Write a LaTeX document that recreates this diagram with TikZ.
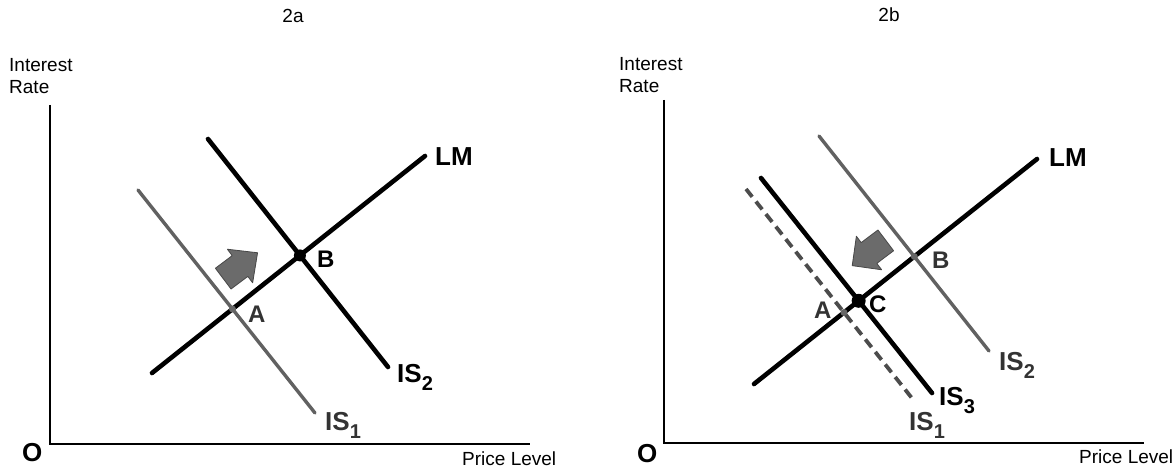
\documentclass[tikz,border=0pt]{standalone}
\usepackage{fontspec}
\setmainfont{Liberation Sans}
\usetikzlibrary{intersections}
\newcommand{\subnum}[1]{\raisebox{-8pt}{\fontsize{20}{20}\selectfont #1}}
\begin{document}
\begin{tikzpicture}[x=1pt,y=-1pt,
  axisline/.style={line width=1.8pt, black},
  thickcurve/.style={line width=4.6pt, black, line cap=round},
  graycurve/.style={line width=3.4pt, black!62, line cap=round},
  dashcurve/.style={line width=3.8pt, black!70, dash pattern=on 10pt off 6pt},
  axislabel/.style={anchor=base west, inner sep=0pt, font=\fontsize{19}{21}\selectfont},
  titlelabel/.style={anchor=base, inner sep=0pt, font=\fontsize{19}{21}\selectfont},
  boldlabel/.style={anchor=base west, inner sep=0pt, font=\fontsize{26}{28}\selectfont\bfseries},
  graylabel/.style={anchor=base west, inner sep=0pt, text=black!80, font=\fontsize{26}{28}\selectfont\bfseries},
  ptbold/.style={anchor=base west, inner sep=0pt, font=\fontsize{24}{26}\selectfont\bfseries},
  ptgray/.style={anchor=base west, inner sep=0pt, text=black!80, font=\fontsize{24}{26}\selectfont\bfseries},
  blackdot/.style={circle, fill=black, inner sep=0pt},
  graydot/.style={circle, fill=black!60, inner sep=0pt, minimum size=7pt},
  shiftarrow/.style={fill=black!58, draw=black!72, line width=0.8pt, line join=round}
]
\useasboundingbox (0,0) rectangle (1174,468);

% ---------------- Panel 2a ----------------
\node[titlelabel] (t2a) at (293,23) {2a};
\node[axislabel] (ir1) at (9,72) {Interest};
\node[axislabel] (rt1) at (9,94) {Rate};
\coordinate (ytop1) at (50,105);
\coordinate (org1) at (50,444);
\coordinate (xend1) at (530,444);
\draw[axisline] (ytop1) -- (org1) -- (xend1);
\node[boldlabel] (o1) at (22,461) {O};
\node[axislabel] (pl1) at (462,465) {Price Level};

\coordinate (lm1a) at (152,373);
\coordinate (lm1b) at (425,156);
\coordinate (is21a) at (208,139);
\coordinate (is21b) at (388,367);
\coordinate (is11a) at (138,190);
\coordinate (is11b) at (315,413);

\draw[graycurve, name path=isone1] (is11a) -- (is11b);
\draw[thickcurve, name path=istwo1] (is21a) -- (is21b);
\draw[thickcurve, name path=lmone] (lm1a) -- (lm1b);

\path[name intersections={of=lmone and isone1, by=A1}];
\path[name intersections={of=lmone and istwo1, by=B1}];
\node[graydot] (dA1) at (A1) {};
\node[blackdot, minimum size=12pt] (dB1) at (B1) {};

\node[boldlabel] (lmlab1) at (435,165) {LM};
\node[boldlabel] (is2lab1) at (397,382) {IS\subnum{2}};
\node[graylabel] (is1lab1) at (325,430) {IS\subnum{1}};
\node[ptbold] (Blab1) at (317,267) {B};
\node[ptgray] (Alab1) at (248,322) {A};

\begin{scope}[shift={(240,266)}, rotate=37]
  \draw[shiftarrow] (-21,-13) -- (0,-13) -- (0,-21) -- (22,0) -- (0,21) -- (0,13) -- (-21,13) -- cycle;
\end{scope}

% ---------------- Panel 2b ----------------
\node[titlelabel] (t2b) at (889,22) {2b};
\node[axislabel] (ir2) at (619,71) {Interest};
\node[axislabel] (rt2) at (619,93) {Rate};
\coordinate (ytop2) at (664,100);
\coordinate (org2) at (664,443);
\coordinate (xend2) at (1144,443);
\draw[axisline] (ytop2) -- (org2) -- (xend2);
\node[boldlabel] (o2) at (637,462) {O};
\node[axislabel] (pl2) at (1079,463) {Price Level};

\coordinate (lm2a) at (754,384);
\coordinate (lm2b) at (1037,159);
\coordinate (is22a) at (819,136);
\coordinate (is22b) at (989,351);
\coordinate (is32a) at (761,178);
\coordinate (is32b) at (932,393);
\coordinate (is12a) at (746,189);
\coordinate (is12b) at (915,402);

\draw[graycurve, name path=istwo2] (is22a) -- (is22b);
\draw[dashcurve, name path=isone2] (is12a) -- (is12b);
\draw[thickcurve, name path=isthree2] (is32a) -- (is32b);
\draw[thickcurve, name path=lmtwo] (lm2a) -- (lm2b);

\path[name intersections={of=lmtwo and isone2, by=A2}];
\path[name intersections={of=lmtwo and istwo2, by=B2}];
\path[name intersections={of=lmtwo and isthree2, by=C2}];
\node[graydot] (dA2) at (A2) {};
\node[graydot] (dB2) at (B2) {};
\node[blackdot, minimum size=14pt] (dC2) at (C2) {};

\node[boldlabel] (lmlab2) at (1049,166) {LM};
\node[graylabel] (is2lab2) at (999,370) {IS\subnum{2}};
\node[boldlabel] (is3lab2) at (939,405) {IS\subnum{3}};
\node[graylabel] (is1lab2) at (909,430) {IS\subnum{1}};
\node[ptgray] (Blab2) at (932,268) {B};
\node[ptgray] (Alab2) at (814,318) {A};
\node[ptbold] (Clab2) at (869,312) {C};

\begin{scope}[shift={(869,253)}, rotate=217]
  \draw[shiftarrow] (-21,-13) -- (0,-13) -- (0,-21) -- (21,0) -- (0,21) -- (0,13) -- (-21,13) -- cycle;
\end{scope}
\end{tikzpicture}
\end{document}
